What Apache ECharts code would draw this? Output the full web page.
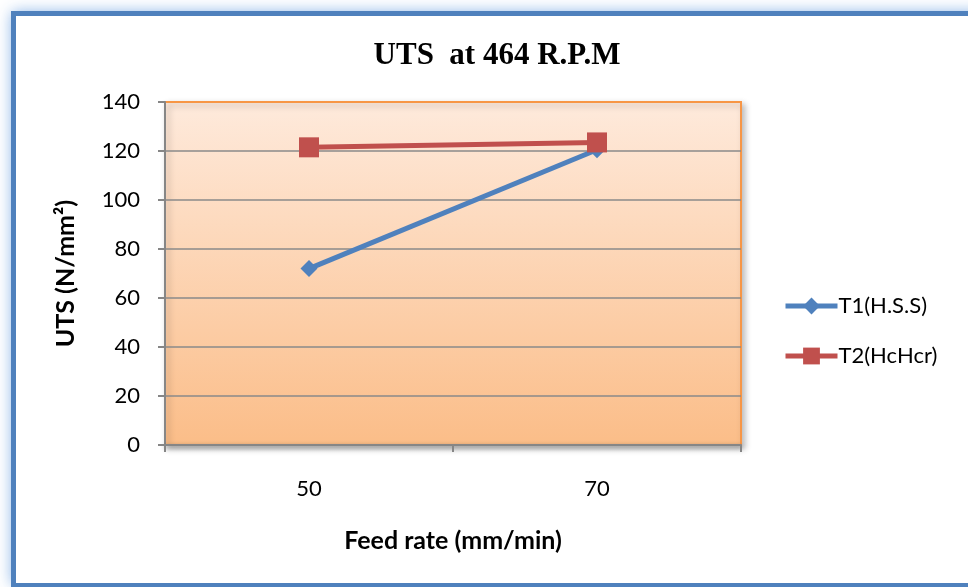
<!DOCTYPE html>
<html>
<head>
<meta charset="utf-8">
<script src="https://cdn.jsdelivr.net/npm/echarts@6/dist/echarts.min.js"></script>
<style>
  html, body { margin: 0; padding: 0; background: #fff; }
  #chart { width: 968px; height: 587px; }
</style>
</head>
<body>
<div id="chart"></div>
<script>
// Feed rate categories (mm/min)
const feedRates = ['50', '70'];
// Ultimate tensile strength (N/mm²) per tool
const t1HSS = [72, 120.5];
const t2HcHcr = [121.5, 123.5];
const seriesNames = ['T1(H.S.S)', 'T2(HcHcr)'];
const yTicks = { min: 0, max: 140, interval: 20 };

const chart = echarts.init(document.getElementById('chart'), null, { renderer: 'canvas' });

const labelFont = 'Lato, "Open Sans", sans-serif';
const gridGray = '#8a8a8a';
const plotOrange = '#f79646';

// one colour per horizontal grid line; the top one doubles as the plot border
const gridLineColors = [];
for (let v = yTicks.min; v <= yTicks.max; v += yTicks.interval) {
  gridLineColors.push(v === yTicks.max ? plotOrange : gridGray);
}

chart.setOption({
  backgroundColor: '#ffffff',
  animation: false,
  graphic: [
    // soft blue glow around the frame
    {
      type: 'rect', z: -10, silent: true,
      shape: { x: 12, y: 12, width: 1000, height: 572 },
      style: { fill: '#bcd5f2', shadowBlur: 14, shadowColor: 'rgba(120,168,228,0.9)' }
    },
    // chart frame
    {
      type: 'rect', z: -9, silent: true,
      shape: { x: 13.5, y: 13.5, width: 1000, height: 572 },
      style: { fill: '#ffffff', stroke: '#4f81bd', lineWidth: 5 }
    }
  ],
  title: {
    text: 'UTS  at 464 R.P.M',
    left: 492, top: 35, textAlign: 'center',
    textStyle: { fontFamily: '"Liberation Serif", "Times New Roman", serif', fontWeight: 'bold', fontSize: 31, color: '#000' }
  },
  legend: {
    orient: 'vertical',
    left: 778, top: 290,
    itemWidth: 52, itemHeight: 21, itemGap: 28,
    lineStyle: { width: 5 },
    textStyle: { fontFamily: labelFont, fontSize: 22, color: '#000', padding: [0, 0, 0, -4] },
    data: seriesNames
  },
  grid: {
    left: 165, right: 227, top: 102, bottom: 142,
    show: true,
    borderColor: plotOrange, borderWidth: 2,
    backgroundColor: new echarts.graphic.LinearGradient(0, 0, 0, 1, [
      { offset: 0, color: '#feeadc' },
      { offset: 1, color: '#fbbd88' }
    ]),
    shadowColor: 'rgba(0,0,0,0.25)', shadowBlur: 6, shadowOffsetX: 3, shadowOffsetY: 3
  },
  xAxis: {
    type: 'category',
    data: feedRates,
    boundaryGap: true,
    name: 'Feed rate (mm/min)',
    nameLocation: 'middle', nameGap: 83,
    nameTextStyle: { fontFamily: labelFont, fontWeight: 'bold', fontSize: 25, color: '#000' },
    axisLine: { lineStyle: { color: '#868686', width: 2, shadowColor: 'rgba(0,0,0,0.35)', shadowBlur: 4, shadowOffsetY: 2 } },
    axisTick: { show: true, length: 7, lineStyle: { color: '#868686', width: 2 } },
    axisLabel: { margin: 33, fontFamily: labelFont, fontSize: 22, color: '#000' },
    splitLine: { show: false }
  },
  yAxis: {
    type: 'value',
    min: yTicks.min, max: yTicks.max, interval: yTicks.interval,
    name: 'UTS (N/mm²)',
    nameLocation: 'middle', nameGap: 87, nameRotate: 90,
    nameTextStyle: { fontFamily: labelFont, fontWeight: 'bold', fontSize: 25, color: '#000' },
    axisLine: { show: true, lineStyle: { color: '#868686', width: 2 } },
    axisTick: { show: true, length: 7, lineStyle: { color: '#868686', width: 2 } },
    axisLabel: { margin: 25, fontFamily: labelFont, fontSize: 22, color: '#000' },
    splitLine: { show: true, lineStyle: { color: gridLineColors, width: 1.5 } }
  },
  series: [
    {
      name: seriesNames[0],
      type: 'line',
      data: t1HSS,
      symbol: 'diamond', symbolSize: 17,
      lineStyle: { color: '#4f81bd', width: 5 },
      itemStyle: { color: '#4f81bd' },
      z: 2
    },
    {
      name: seriesNames[1],
      type: 'line',
      data: t2HcHcr,
      symbol: 'rect', symbolSize: 20,
      lineStyle: { color: '#c0504d', width: 5 },
      itemStyle: { color: '#c0504d' },
      z: 3
    }
  ]
});
</script>
</body>
</html>
